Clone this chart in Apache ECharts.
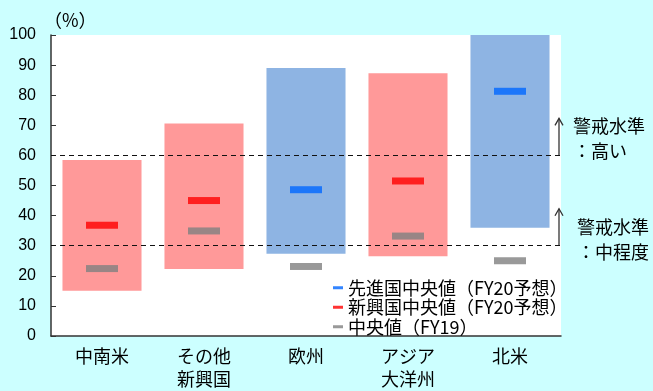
<!DOCTYPE html>
<html>
<head>
<meta charset="utf-8">
<script src="https://cdn.jsdelivr.net/npm/echarts@6/dist/echarts.min.js"></script>
<style>
  html, body { margin: 0; padding: 0; background: #ccffff; }
  #chart { width: 653px; height: 391px; }
</style>
</head>
<body>
<div id="chart"></div>
<script>
// Regions on the category axis
const categories = ['中南米', 'その他\n新興国', '欧州', 'アジア\n大洋州', '北米'];
// Range of each region (low / high, %)
const rangeLow  = [15.0, 22.3, 27.3, 26.5, 36.0];
const rangeHigh = [58.5, 70.6, 89.0, 87.3, 100.0];
// true = advanced economies (blue), false = emerging (red)
const isAdvanced = [false, false, true, false, true];
// Medians
const advancedMedianFY20 = [null, null, 48.6, null, 81.3];
const emergingMedianFY20 = [36.8, 45.0, null, 51.5, null];
const medianFY19 = [22.4, 34.9, 23.1, 33.2, 25.0];
// Y axis
const yTicks = { min: 0, max: 100, interval: 10 };
// Warning thresholds
const warnHigh = 60;
const warnMid = 30;

const CJK = "'Noto Sans CJK JP', sans-serif";
const NUM = "'Liberation Sans', 'Noto Sans CJK JP', sans-serif";

const chart = echarts.init(document.getElementById('chart'), null, { renderer: 'canvas' });

const rangeData = categories.map((c, i) => [i, rangeLow[i], rangeHigh[i]]);

const option = {
  backgroundColor: '#ccffff',
  animation: false,
  grid: {
    left: 51, right: 92, top: 35, bottom: 50,
    show: true, backgroundColor: '#ffffff', borderWidth: 0
  },
  xAxis: {
    type: 'category',
    data: categories,
    axisLine: { lineStyle: { color: '#333', width: 1.5 } },
    axisTick: { inside: true, length: 5, lineStyle: { color: '#333' } },
    axisLabel: {
      color: '#000', fontFamily: CJK, fontSize: 18, lineHeight: 23, margin: 9
    }
  },
  yAxis: {
    type: 'value',
    min: yTicks.min, max: yTicks.max, interval: yTicks.interval,
    axisLine: { show: true, lineStyle: { color: '#333', width: 1.5 } },
    axisTick: { show: true, inside: true, length: 5, lineStyle: { color: '#333' } },
    splitLine: { show: false },
    axisLabel: { color: '#000', fontFamily: NUM, fontSize: 16, margin: 15 }
  },
  legend: {
    orient: 'vertical',
    left: 328, top: 273,
    itemWidth: 10, itemHeight: 3, itemGap: 0,
    icon: 'rect',
    textStyle: { fontFamily: CJK, fontSize: 18, lineHeight: 19.5, color: '#000' },
    data: ['先進国中央値（FY20予想）', '新興国中央値（FY20予想）', '中央値（FY19）']
  },
  series: [
    {
      type: 'custom',
      name: 'range',
      data: rangeData,
      z: 1,
      renderItem: function (params, api) {
        const i = api.value(0);
        const lo = api.coord([i, api.value(1)]);
        const hi = api.coord([i, api.value(2)]);
        const w = api.size([1, 0])[0] * 0.775;
        return {
          type: 'rect',
          shape: { x: lo[0] - w / 2, y: hi[1], width: w, height: lo[1] - hi[1] },
          style: { fill: isAdvanced[i] ? '#8eb4e3' : '#ff9999' }
        };
      },
      markLine: {
        silent: true,
        symbol: 'none',
        label: { show: false },
        lineStyle: { color: '#111', type: [5, 4], width: 1.2 },
        data: [{ yAxis: warnHigh }, { yAxis: warnMid }]
      }
    },
    {
      type: 'scatter',
      name: '先進国中央値（FY20予想）',
      data: advancedMedianFY20.map((v, i) => [i, v]),
      symbol: 'rect', symbolSize: [32, 7],
      itemStyle: { color: '#0066ff' }, z: 3
    },
    {
      type: 'scatter',
      name: '新興国中央値（FY20予想）',
      data: emergingMedianFY20.map((v, i) => [i, v]),
      symbol: 'rect', symbolSize: [32, 7],
      itemStyle: { color: '#ff0000' }, z: 3
    },
    {
      type: 'scatter',
      name: '中央値（FY19）',
      data: medianFY19.map((v, i) => [i, v]),
      symbol: 'rect', symbolSize: [32, 7],
      itemStyle: { color: '#808080' }, z: 3
    }
  ]
};

chart.setOption(option);

// Unit label, threshold arrows and their captions
function arrow(x, yBase, len) {
  return {
    type: 'polyline',
    shape: { points: [[x - 4, yBase - len + 7], [x, yBase - len], [x + 4, yBase - len + 7]] },
    style: { stroke: '#333', lineWidth: 1.3, fill: null }
  };
}
function stem(x, yBase, len) {
  return {
    type: 'line',
    shape: { x1: x, y1: yBase, x2: x, y2: yBase - len },
    style: { stroke: '#333', lineWidth: 1.3 }
  };
}
const gridRight = chart.convertToPixel({ xAxisIndex: 0 }, categories.length - 1) +
  chart.getModel().getComponent('xAxis', 0).axis.getBandWidth() / 2;
const yHigh = chart.convertToPixel({ yAxisIndex: 0 }, warnHigh);
const yMid = chart.convertToPixel({ yAxisIndex: 0 }, warnMid);
const ax = gridRight - 2;
const capStyle = { fontFamily: CJK, fontSize: 18, fill: '#000', lineHeight: 25 };

chart.setOption({
  graphic: [
    {
      type: 'text', left: 44, top: 11,
      style: { text: '（%）', fontFamily: CJK, fontSize: 18, fill: '#000' }
    },
    stem(ax, yHigh, 37), arrow(ax, yHigh, 37),
    stem(ax, yMid, 37), arrow(ax, yMid, 37),
    {
      type: 'text', x: ax + 14, y: yHigh - 42,
      style: Object.assign({ text: '警戒水準\n：高い' }, capStyle)
    },
    {
      type: 'text', x: ax + 18, y: yMid - 31,
      style: Object.assign({ text: '警戒水準\n：中程度' }, capStyle)
    }
  ]
});
</script>
</body>
</html>
